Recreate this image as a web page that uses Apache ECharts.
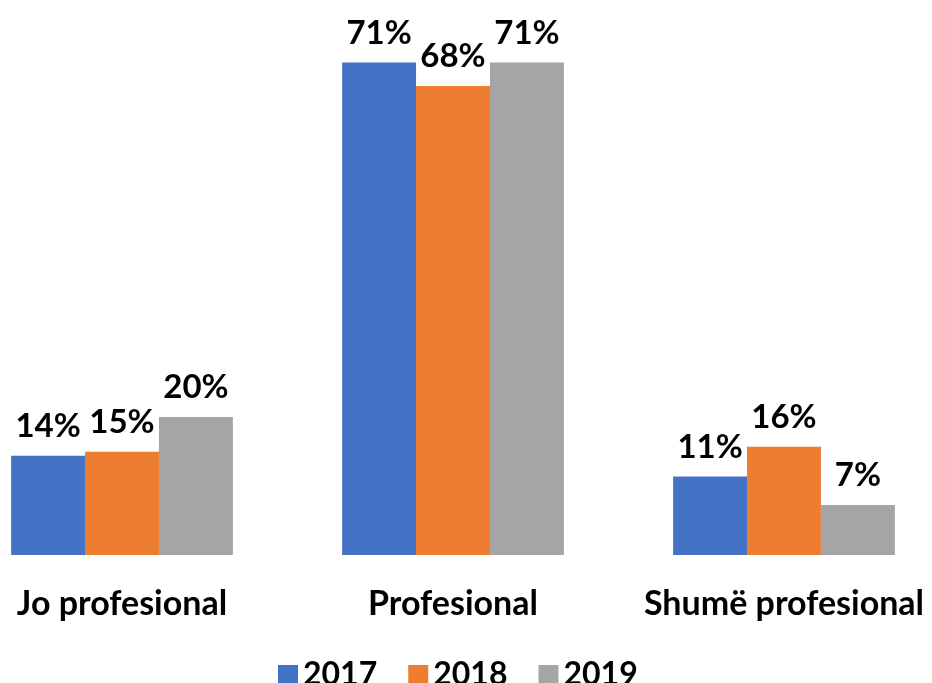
<!DOCTYPE html>
<html>
<head>
<meta charset="utf-8">
<script src="https://cdn.jsdelivr.net/npm/echarts@6/dist/echarts.min.js"></script>
<style>
html,body{margin:0;padding:0;background:#fff;}
#chart{width:932px;height:683px;}
</style>
</head>
<body>
<div id="chart"></div>
<script>
const categories = ['Jo profesional', 'Profesional', 'Shumë profesional'];
const seriesNames = ['2017', '2018', '2019'];
const values2017 = [14.3, 71.0, 11.3];
const values2018 = [14.9, 67.6, 15.6];
const values2019 = [19.9, 71.0, 7.2];
const colors = ['#4472C4', '#ED7D31', '#A5A5A5'];

const FONT = 'Lato';
const chart = echarts.init(document.getElementById('chart'));
const dataSets = [values2017, values2018, values2019];
chart.setOption({
  animation: false,
  color: colors,
  grid: { left: 122, right: 148, top: 0, bottom: 128, containLabel: false },
  legend: {
    data: seriesNames,
    left: 273,
    top: 654,
    icon: 'rect',
    itemWidth: 20,
    itemHeight: 20,
    itemGap: 31,
    textStyle: { fontFamily: FONT, fontWeight: 'bold', fontSize: 32, color: '#000' }
  },
  xAxis: {
    type: 'category',
    data: categories,
    boundaryGap: false,
    axisLine: { show: false },
    axisTick: { show: false },
    splitLine: { show: false },
    axisLabel: { interval: 0, margin: 32, fontFamily: FONT, fontWeight: 'bold', fontSize: 34, color: '#000' }
  },
  yAxis: {
    type: 'value',
    min: 0,
    max: 80,
    show: false,
    splitLine: { show: false }
  },
  series: seriesNames.map((name, i) => ({
    name: name,
    type: 'bar',
    data: dataSets[i],
    clip: false,
    barGap: '0%',
    barCategoryGap: '33%',
    label: {
      show: true,
      position: 'top',
      distance: 13,
      formatter: p => Math.round(p.value) + '%',
      fontFamily: FONT,
      fontWeight: 'bold',
      fontSize: 33,
      color: '#000'
    }
  }))
});
</script>
</body>
</html>
